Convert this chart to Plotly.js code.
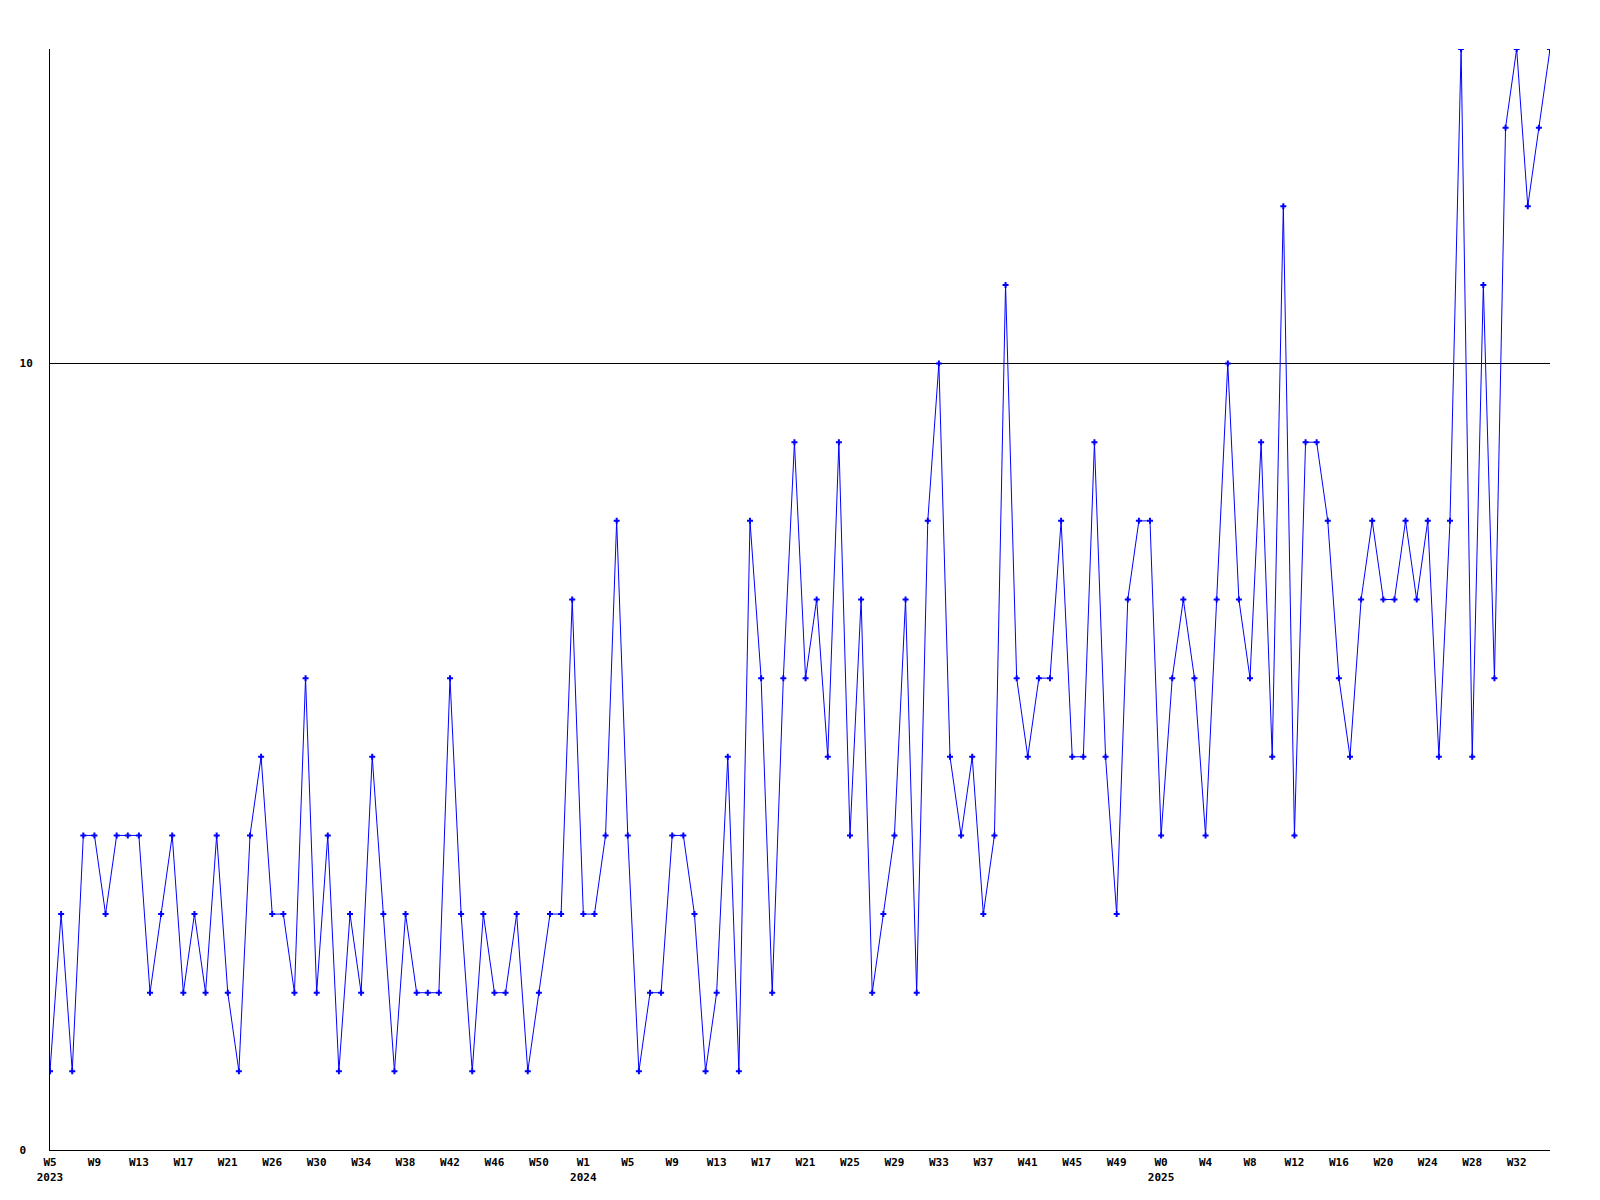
<!DOCTYPE html>
<html>
<head>
<meta charset="utf-8">
<script src="https://cdn.plot.ly/plotly-3.0.1.min.js"></script>
<style>
  html, body { margin: 0; padding: 0; background: #ffffff; }
  #chart { width: 1600px; height: 1200px; }
</style>
</head>
<body>
<div id="chart"></div>
<script>
// Weekly values, 2023 W5 through 2025 W34
const weeklyValues = [
  1,3,1,4,4,3,4,4,4,2,
  3,4,2,3,2,4,2,1,4,5,
  3,3,2,6,2,4,1,3,2,5,
  3,1,3,2,2,2,6,3,1,3,
  2,2,3,1,2,3,3,7,3,3,
  4,8,4,1,2,2,4,4,3,1,
  2,5,1,8,6,2,6,9,6,7,
  5,9,4,7,2,3,4,7,2,8,
  10,5,4,5,3,4,11,6,5,6,
  6,8,5,5,9,5,3,7,8,8,
  4,6,7,6,4,7,10,7,6,9,
  5,12,4,9,9,8,6,5,7,8,
  7,7,8,7,8,5,8,14,5,11,
  6,13,14,12,13,14
];

// Tick labels, one every 4 weeks
const weekTickLabels = [
  "W5","W9","W13","W17","W21","W26","W30","W34","W38","W42","W46","W50",
  "W1","W5","W9","W13","W17","W21","W25","W29","W33","W37","W41","W45","W49",
  "W0","W4","W8","W12","W16","W20","W24","W28","W32"
];
const yearLabels = { 0: "2023", 12: "2024", 25: "2025" };
const tickStep = 4;

const yTickValues = [0, 10];
const yTickLabels = ["0\u00a0", "10"];

const xIndex = weeklyValues.map((_, i) => i);
const tickVals = weekTickLabels.map((_, i) => i * tickStep);
const tickText = weekTickLabels.map((w, i) => yearLabels[i] ? w + "<br>" + yearLabels[i] : w);

const labelFont = { family: "DejaVu Sans Mono, Liberation Mono, monospace", size: 11, color: "#000000", weight: "bold" };

Plotly.newPlot("chart", [{
  x: xIndex,
  y: weeklyValues,
  type: "scatter",
  mode: "lines+markers",
  line: { color: "#0000ff", width: 1 },
  marker: { color: "#0000ff", symbol: "cross", size: 5, line: { width: 0 } },
  hoverinfo: "skip",
  cliponaxis: true
}], {
  width: 1600,
  height: 1200,
  margin: { l: 50, r: 50, t: 49, b: 50, pad: 0 },
  paper_bgcolor: "#ffffff",
  plot_bgcolor: "#ffffff",
  showlegend: false,
  hovermode: false,
  xaxis: {
    range: [0, weeklyValues.length - 1],
    tickmode: "array",
    tickvals: tickVals,
    ticktext: tickText,
    ticks: "",
    showgrid: false,
    zeroline: false,
    showline: true,
    linecolor: "#000000",
    linewidth: 1,
    tickfont: labelFont,
    ticklabelstandoff: 2,
    fixedrange: true
  },
  yaxis: {
    range: [0, 14],
    tickmode: "array",
    tickvals: yTickValues,
    ticktext: yTickLabels,
    ticks: "",
    showgrid: true,
    gridcolor: "#000000",
    gridwidth: 1,
    zeroline: false,
    showline: true,
    linecolor: "#000000",
    linewidth: 1,
    tickfont: labelFont,
    ticklabelstandoff: 14,
    fixedrange: true
  }
}, { displayModeBar: false, staticPlot: true });
</script>
</body>
</html>
